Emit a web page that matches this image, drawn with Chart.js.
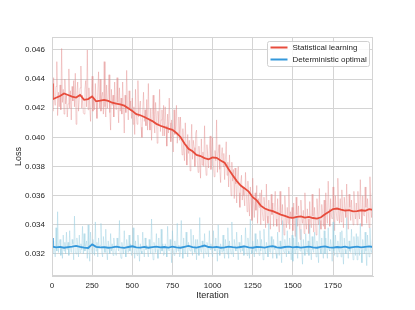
<!DOCTYPE html>
<html>
<head>
<meta charset="utf-8">
<script src="https://cdn.jsdelivr.net/npm/chart.js@4/dist/chart.umd.min.js"></script>
<style>
  html, body { margin: 0; padding: 0; background: #fff; }
  #wrap { width: 415px; height: 310px; }
</style>
</head>
<body>
<div id="wrap"><canvas id="lossChart"></canvas></div>
<script>
// raw losses, one reading every 5 iterations (20 per row = 100 iterations)
const rawStep = 5;
const statRaw = [
  0.0437,0.0418,0.0441,0.0426,0.0422,0.0435,0.0452,0.0415,0.0431,0.0421,0.0436,0.0419,0.0461,0.0424,0.0433,0.0416,0.0440,0.0423,0.0429,0.0414,
  0.0423,0.0447,0.0420,0.0432,0.0412,0.0435,0.0425,0.0439,0.0421,0.0444,0.0409,0.0430,0.0438,0.0418,0.0426,0.0434,0.0449,0.0420,0.0429,0.0417,
  0.0416,0.0433,0.0439,0.0421,0.0460,0.0419,0.0434,0.0422,0.0411,0.0430,0.0442,0.0418,0.0427,0.0419,0.0437,0.0424,0.0413,0.0431,0.0445,0.0420,
  0.0440,0.0418,0.0428,0.0431,0.0416,0.0452,0.0421,0.0414,0.0436,0.0420,0.0427,0.0443,0.0417,0.0405,0.0433,0.0422,0.0429,0.0414,0.0438,0.0423,
  0.0419,0.0441,0.0424,0.0410,0.0434,0.0418,0.0427,0.0416,0.0438,0.0421,0.0403,0.0429,0.0417,0.0446,0.0423,0.0412,0.0432,0.0420,0.0425,0.0413,
  0.0427,0.0409,0.0421,0.0402,0.0433,0.0416,0.0409,0.0439,0.0414,0.0420,0.0425,0.0407,0.0400,0.0418,0.0431,0.0411,0.0419,0.0408,0.0426,0.0405,
  0.0437,0.0412,0.0405,0.0420,0.0398,0.0416,0.0429,0.0410,0.0403,0.0424,0.0415,0.0396,0.0418,0.0409,0.0433,0.0404,0.0412,0.0419,0.0401,0.0422,
  0.0401,0.0421,0.0408,0.0394,0.0416,0.0403,0.0427,0.0410,0.0397,0.0412,0.0405,0.0390,0.0419,0.0402,0.0408,0.0422,0.0396,0.0403,0.0414,0.0398,
  0.0414,0.0397,0.0388,0.0406,0.0392,0.0384,0.0410,0.0395,0.0381,0.0402,0.0389,0.0398,0.0377,0.0391,0.0409,0.0385,0.0398,0.0393,0.0380,0.0403,
  0.0405,0.0384,0.0376,0.0394,0.0386,0.0372,0.0399,0.0381,0.0390,0.0380,0.0408,0.0383,0.0374,0.0395,0.0387,0.0379,0.0392,0.0401,0.0378,0.0388,
  0.0400,0.0381,0.0373,0.0391,0.0384,0.0412,0.0376,0.0389,0.0395,0.0378,0.0369,0.0387,0.0393,0.0380,0.0389,0.0371,0.0385,0.0397,0.0374,0.0383,
  0.0366,0.0388,0.0374,0.0360,0.0383,0.0370,0.0378,0.0358,0.0379,0.0368,0.0355,0.0373,0.0380,0.0362,0.0352,0.0369,0.0374,0.0357,0.0366,0.0360,
  0.0353,0.0376,0.0362,0.0349,0.0370,0.0357,0.0346,0.0366,0.0359,0.0343,0.0372,0.0355,0.0345,0.0362,0.0350,0.0367,0.0341,0.0358,0.0352,0.0362,
  0.0340,0.0364,0.0349,0.0343,0.0359,0.0352,0.0338,0.0368,0.0346,0.0341,0.0357,0.0350,0.0337,0.0361,0.0347,0.0355,0.0339,0.0352,0.0363,0.0344,
  0.0339,0.0358,0.0345,0.0335,0.0363,0.0348,0.0340,0.0354,0.0343,0.0333,0.0360,0.0346,0.0338,0.0352,0.0341,0.0366,0.0337,0.0349,0.0344,0.0352,
  0.0336,0.0355,0.0343,0.0332,0.0359,0.0347,0.0339,0.0353,0.0341,0.0330,0.0357,0.0345,0.0341,0.0350,0.0334,0.0362,0.0342,0.0337,0.0351,0.0344,
  0.0334,0.0356,0.0342,0.0338,0.0361,0.0346,0.0335,0.0352,0.0344,0.0333,0.0358,0.0347,0.0340,0.0365,0.0343,0.0337,0.0354,0.0348,0.0339,0.0357,
  0.0337,0.0362,0.0348,0.0341,0.0370,0.0351,0.0339,0.0358,0.0346,0.0344,0.0366,0.0352,0.0336,0.0360,0.0349,0.0343,0.0372,0.0350,0.0341,0.0358,
  0.0342,0.0364,0.0349,0.0338,0.0359,0.0351,0.0345,0.0368,0.0347,0.0337,0.0361,0.0352,0.0343,0.0357,0.0348,0.0340,0.0363,0.0350,0.0344,0.0355,
  0.0340,0.0363,0.0348,0.0344,0.0371,0.0351,0.0339,0.0360,0.0347,0.0346,0.0366,0.0352,0.0341,0.0358,0.0349,0.0338,0.0373,0.0353,0.0345,0.0362
];
const detRaw = [
  0.0331,0.0320,0.0329,0.0324,0.0318,0.0338,0.0322,0.0349,0.0321,0.0327,0.0330,0.0319,0.0325,0.0317,0.0333,0.0322,0.0328,0.0320,0.0335,0.0323,
  0.0328,0.0319,0.0336,0.0324,0.0321,0.0330,0.0327,0.0316,0.0346,0.0322,0.0320,0.0331,0.0325,0.0318,0.0333,0.0321,0.0327,0.0323,0.0339,0.0320,
  0.0334,0.0322,0.0326,0.0329,0.0317,0.0340,0.0323,0.0315,0.0335,0.0324,0.0320,0.0330,0.0326,0.0319,0.0342,0.0322,0.0328,0.0318,0.0331,0.0324,
  0.0326,0.0341,0.0321,0.0318,0.0332,0.0325,0.0321,0.0337,0.0323,0.0316,0.0329,0.0324,0.0320,0.0334,0.0322,0.0327,0.0319,0.0331,0.0325,0.0321,
  0.0319,0.0331,0.0325,0.0322,0.0343,0.0320,0.0317,0.0328,0.0324,0.0320,0.0336,0.0323,0.0318,0.0330,0.0326,0.0321,0.0333,0.0322,0.0327,0.0319,
  0.0321,0.0338,0.0324,0.0317,0.0329,0.0323,0.0319,0.0333,0.0325,0.0315,0.0327,0.0322,0.0320,0.0335,0.0324,0.0318,0.0331,0.0323,0.0326,0.0321,
  0.0318,0.0330,0.0324,0.0320,0.0344,0.0322,0.0316,0.0328,0.0325,0.0321,0.0334,0.0323,0.0317,0.0331,0.0324,0.0320,0.0337,0.0322,0.0327,0.0319,
  0.0320,0.0327,0.0324,0.0318,0.0339,0.0323,0.0322,0.0330,0.0325,0.0314,0.0336,0.0323,0.0319,0.0329,0.0324,0.0321,0.0341,0.0322,0.0326,0.0318,
  0.0321,0.0343,0.0324,0.0317,0.0331,0.0323,0.0320,0.0335,0.0325,0.0318,0.0328,0.0324,0.0322,0.0337,0.0323,0.0319,0.0333,0.0325,0.0321,0.0330,
  0.0316,0.0330,0.0325,0.0319,0.0345,0.0323,0.0321,0.0329,0.0324,0.0317,0.0334,0.0322,0.0320,0.0328,0.0325,0.0318,0.0336,0.0323,0.0327,0.0321,
  0.0318,0.0336,0.0324,0.0322,0.0331,0.0325,0.0315,0.0340,0.0323,0.0319,0.0327,0.0324,0.0321,0.0333,0.0322,0.0317,0.0330,0.0325,0.0320,0.0338,
  0.0317,0.0329,0.0324,0.0320,0.0342,0.0323,0.0318,0.0330,0.0325,0.0322,0.0335,0.0323,0.0316,0.0328,0.0324,0.0321,0.0333,0.0322,0.0326,0.0319,
  0.0321,0.0338,0.0324,0.0319,0.0331,0.0325,0.0317,0.0344,0.0323,0.0320,0.0329,0.0324,0.0318,0.0334,0.0322,0.0321,0.0330,0.0325,0.0319,0.0336,
  0.0322,0.0330,0.0324,0.0316,0.0337,0.0323,0.0320,0.0328,0.0325,0.0318,0.0341,0.0322,0.0321,0.0332,0.0324,0.0317,0.0330,0.0323,0.0326,0.0320,
  0.0317,0.0335,0.0324,0.0319,0.0329,0.0325,0.0314,0.0343,0.0323,0.0321,0.0330,0.0324,0.0318,0.0336,0.0322,0.0320,0.0331,0.0325,0.0316,0.0333,
  0.0315,0.0331,0.0324,0.0320,0.0346,0.0323,0.0317,0.0328,0.0325,0.0322,0.0337,0.0322,0.0313,0.0330,0.0324,0.0319,0.0334,0.0323,0.0321,0.0329,
  0.0319,0.0340,0.0324,0.0316,0.0332,0.0323,0.0321,0.0335,0.0325,0.0318,0.0329,0.0322,0.0314,0.0344,0.0324,0.0320,0.0331,0.0323,0.0317,0.0336,
  0.0320,0.0331,0.0324,0.0317,0.0338,0.0323,0.0322,0.0330,0.0325,0.0315,0.0342,0.0322,0.0319,0.0333,0.0324,0.0318,0.0329,0.0323,0.0321,0.0335,
  0.0318,0.0336,0.0324,0.0313,0.0331,0.0323,0.0320,0.0345,0.0325,0.0317,0.0329,0.0322,0.0321,0.0337,0.0324,0.0316,0.0332,0.0323,0.0319,0.0334,
  0.0316,0.0332,0.0324,0.0319,0.0341,0.0323,0.0314,0.0330,0.0325,0.0320,0.0335,0.0322,0.0312,0.0333,0.0324,0.0318,0.0338,0.0323,0.0321,0.0330
];

// smoothed curves: iteration 0, 5, then every 25, then the last one
const smoothIters = [0, 5];
for (let it = 25; it <= 1975; it += 25) smoothIters.push(it);
smoothIters.push(1999);

const statSmooth = [
  0.0437, 0.04262,
  0.04272, 0.04284, 0.04302, 0.04291, 0.04280, 0.04273, 0.04291, 0.04258, 0.04263, 0.04281,
  0.04248, 0.04252, 0.04258, 0.04251, 0.04238, 0.04232, 0.04226, 0.04218, 0.04200, 0.04182,
  0.04160, 0.04152, 0.04140, 0.04126, 0.04112, 0.04093, 0.04080, 0.04071, 0.04060, 0.04052,
  0.04030, 0.04003, 0.03958, 0.03922, 0.03905, 0.03880, 0.03872, 0.03858, 0.03850, 0.03862,
  0.03860, 0.03842, 0.03826, 0.03782, 0.03741, 0.03702, 0.03670, 0.03650, 0.03628, 0.03590,
  0.03568, 0.03532, 0.03512, 0.03501, 0.03494, 0.03482, 0.03470, 0.03462, 0.03452, 0.03448,
  0.03455, 0.03458, 0.03450, 0.03454, 0.03447, 0.03443, 0.03452, 0.03472, 0.03490, 0.03508,
  0.03512, 0.03504, 0.03498, 0.03501, 0.03492, 0.03494, 0.03500, 0.03497, 0.03508,
  0.03502
];
const detSmooth = [
  0.0331, 0.03250,
  0.03245, 0.03249, 0.03243, 0.03247, 0.03251, 0.03256, 0.03249, 0.03244, 0.03241, 0.03266,
  0.03249, 0.03245, 0.03247, 0.03243, 0.03246, 0.03250, 0.03245, 0.03242, 0.03248, 0.03253,
  0.03246, 0.03244, 0.03249, 0.03243, 0.03247, 0.03251, 0.03245, 0.03248, 0.03244, 0.03250,
  0.03246, 0.03243, 0.03249, 0.03255, 0.03247, 0.03244, 0.03250, 0.03258, 0.03248, 0.03245,
  0.03249, 0.03243, 0.03246, 0.03251, 0.03247, 0.03244, 0.03248, 0.03252, 0.03246, 0.03243,
  0.03249, 0.03247, 0.03244, 0.03250, 0.03254, 0.03246, 0.03243, 0.03248, 0.03251, 0.03245,
  0.03249, 0.03244, 0.03247, 0.03250, 0.03246, 0.03243, 0.03249, 0.03252, 0.03246, 0.03244,
  0.03248, 0.03245, 0.03250, 0.03243, 0.03247, 0.03251, 0.03246, 0.03249, 0.03252,
  0.03248
];

const seriesLabels = ['Statistical learning', 'Deterministic optimal'];
const xTicks = [0, 250, 500, 750, 1000, 1250, 1500, 1750];
const yTicks = [0.032, 0.034, 0.036, 0.038, 0.040, 0.042, 0.044, 0.046];

const toPoints = (xs, ys) => ys.map((v, i) => ({ x: xs[i], y: v }));
const rawIters = statRaw.map((_, i) => i * rawStep);

const FONT = "'Liberation Sans', Arial, sans-serif";
const TEXT = '#262626';
const GRID = '#d4d4d4';

// frame round the plot + legend box inside it, top right
const framePlugin = {
  id: 'frame',
  afterDraw(chart) {
    const { ctx, chartArea: a } = chart;
    ctx.save();
    ctx.strokeStyle = GRID;
    ctx.lineWidth = 1;
    ctx.strokeRect(Math.round(a.left) + 0.5, Math.round(a.top) + 0.5,
      Math.round(a.right - a.left) - 1, Math.round(a.bottom - a.top) - 1);

    const items = chart.data.datasets.filter(d => d.inLegend);
    const bx = 267.5, by = 41.5, bw = 102, bh = 25;
    ctx.fillStyle = 'rgba(255,255,255,0.85)';
    ctx.strokeStyle = '#d0d0d0';
    ctx.beginPath();
    ctx.roundRect(bx, by, bw, bh, 2);
    ctx.fill();
    ctx.stroke();
    ctx.font = '8px ' + FONT;
    ctx.textBaseline = 'middle';
    items.forEach((d, i) => {
      const y = by + 6 + i * 12;
      ctx.strokeStyle = d.borderColor;
      ctx.lineWidth = 2;
      ctx.beginPath();
      ctx.moveTo(bx + 3, y);
      ctx.lineTo(bx + 20, y);
      ctx.stroke();
      ctx.fillStyle = TEXT;
      ctx.fillText(d.label, bx + 25, y);
    });
    ctx.restore();
  }
};

new Chart(document.getElementById('lossChart'), {
  type: 'line',
  data: {
    datasets: [
      { label: seriesLabels[0], inLegend: true, data: toPoints(smoothIters, statSmooth),
        borderColor: '#e74c3c', borderWidth: 1.8, order: 0 },
      { label: seriesLabels[1], inLegend: true, data: toPoints(smoothIters, detSmooth),
        borderColor: '#3498db', borderWidth: 1.8, order: 1 },
      { label: 'det raw', data: toPoints(rawIters, detRaw),
        borderColor: 'rgba(150,205,225,0.42)', borderWidth: 1, order: 2 },
      { label: 'stat raw', data: toPoints(rawIters, statRaw),
        borderColor: 'rgba(225,135,135,0.38)', borderWidth: 1, order: 3 }
    ]
  },
  options: {
    responsive: true,
    maintainAspectRatio: false,
    animation: false,
    events: [],
    elements: { point: { radius: 0 }, line: { tension: 0 } },
    layout: { padding: { left: 0, top: 37, right: 42, bottom: 0 } },
    plugins: { legend: { display: false }, tooltip: { enabled: false } },
    scales: {
      x: {
        type: 'linear', min: 0, max: 1999,
        afterBuildTicks: s => { s.ticks = xTicks.map(v => ({ value: v })); },
        afterFit: s => { s.height = 34; },
        grid: { color: GRID, drawTicks: false },
        border: { color: GRID },
        ticks: { color: TEXT, padding: 5, font: { family: FONT, size: 8 },
          callback: v => String(v) },
        title: { display: true, text: 'Iteration', color: TEXT,
          font: { family: FONT, size: 9 }, padding: { top: 0, bottom: 9 } }
      },
      y: {
        type: 'linear', min: 0.03049, max: 0.04689,
        afterBuildTicks: s => { s.ticks = yTicks.map(v => ({ value: v })); },
        afterFit: s => { s.width = 52; },
        grid: { color: GRID, drawTicks: false },
        border: { color: GRID },
        ticks: { color: TEXT, padding: 7, font: { family: FONT, size: 8 },
          callback: v => v.toFixed(3) },
        title: { display: true, text: 'Loss', color: TEXT,
          font: { family: FONT, size: 9 }, padding: { top: 13, bottom: 0 } }
      }
    }
  },
  plugins: [framePlugin]
});
</script>
</body>
</html>
